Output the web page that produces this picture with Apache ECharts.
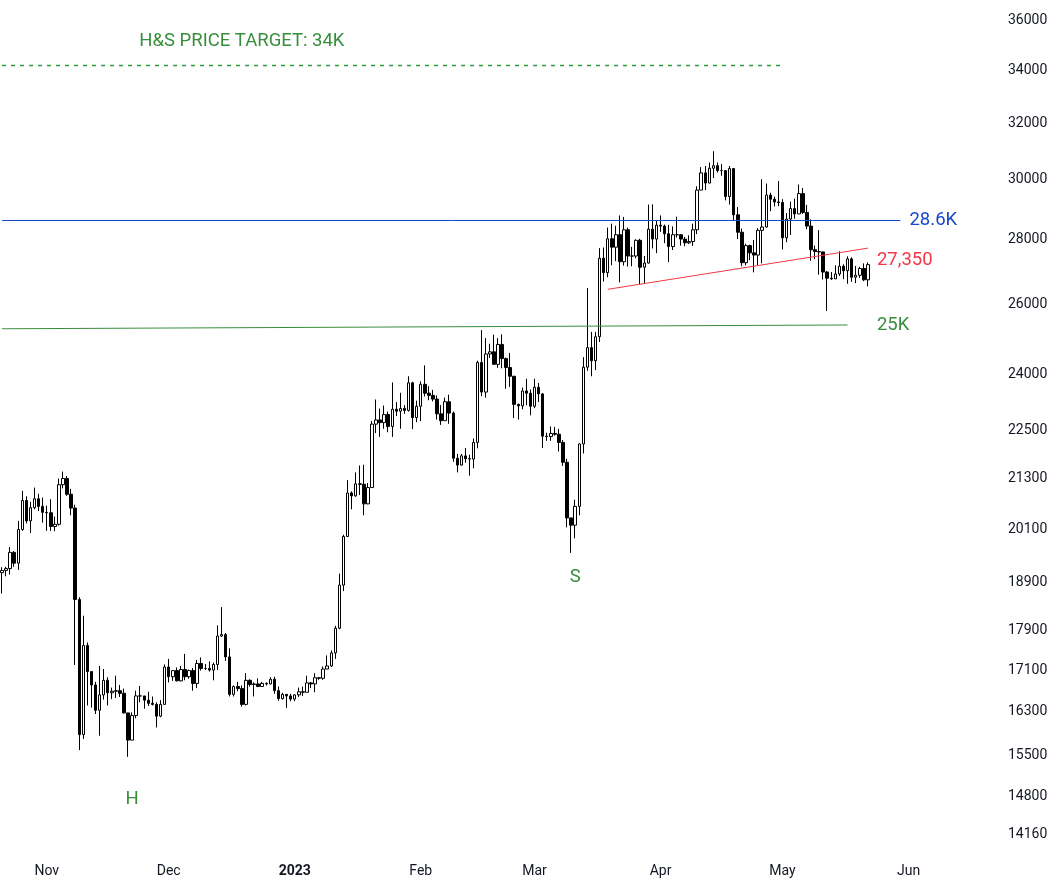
<!DOCTYPE html>
<html>
<head>
<meta charset="utf-8">
<script src="https://cdn.jsdelivr.net/npm/echarts@6/dist/echarts.min.js"></script>
<style>html,body{margin:0;padding:0;background:#fff}#chart{width:1057px;height:881px}</style>
</head>
<body>
<div id="chart"></div>
<script>
var startDate = '2022-10-21', endDate = '2023-06-23';
var firstOpen = 19120;
var closes = [
    19170,19210,19570,19330,20090,20770,20290,20600,20810,20630,20490,
    20480,20160,20210,21150,21300,20920,20590,18540,15880,17590,17070,16810,16330,16620,16900,16660,16690,16700,16650,16280,15780,16230,16600,16600,16520,16460,16440,16220,16440,17160,
    16970,17090,16890,17110,16970,17090,16840,17230,17130,17130,17100,17210,17780,17810,17360,16630,16780,16740,16440,16900,16820,16830,16780,16840,16830,16920,16700,16550,16630,16600,16540,
    16620,16680,16670,16850,16830,16950,16940,17120,17180,17440,17940,18850,19930,20950,20880,21170,21160,20690,21080,22670,22780,22710,22920,22610,23060,23010,23080,23030,23770,22840,23140,
    23730,23490,23430,23330,22940,22760,23260,22960,21800,21630,21860,21790,21780,22200,24330,23520,24570,24630,24280,24840,24440,24190,23950,23190,23150,23550,23490,23140,
    23650,23470,22360,22350,22430,22410,22200,21700,20360,20190,20630,22160,24200,24750,24380,25060,27420,26970,28040,27770,28170,27310,28330,27490,27490,27990,27140,27270,28350,28030,28480,
    28450,28200,27790,28170,28170,28030,27910,27950,28330,29650,30240,29890,30400,30490,30320,30320,29430,30390,28820,28250,27280,27820,27590,27520,28310,28420,29480,29340,29250,29230,
    28070,28680,29030,28850,29530,28900,28450,27690,27630,27620,26990,26800,26780,26930,27170,27030,27400,26830,26890,27100,26750,27220
];
var highs = [
    19240,19250,19690,19600,20290,21000,20870,20740,21080,20930,20840,
    20650,20800,20390,21300,21470,21360,21050,20670,18590,18200,17650,17070,16870,17180,17120,16960,16760,16990,16810,16740,16280,16290,16700,16790,16590,16680,16590,16480,16520,17210,
    17320,17100,17150,17180,17420,17110,17140,17300,17350,17220,17270,17250,18000,18380,17840,17530,16800,16870,16800,17040,16920,16860,16940,16870,16860,16960,16970,16780,16660,16630,16640,
    16630,16760,16780,16990,16870,17040,16950,17170,17390,17490,17990,19100,19970,21260,20990,21450,21620,21640,21190,22750,23320,23080,23160,23000,23780,23250,23500,23170,23950,23800,23290,
    23810,24250,23680,23580,23430,23170,23370,23450,23000,21910,21910,22060,21890,22300,24380,25250,25020,24860,25120,25020,25130,24470,24600,23960,23210,23640,23880,23590,
    23880,23770,23490,22450,22610,22600,22550,22260,21790,20360,20790,22180,24480,26500,25200,25200,27740,27760,28400,28530,28460,28800,28750,28400,27780,28020,28040,27490,29160,29170,28640,
    28800,28500,28490,28440,28760,28190,28100,28150,28530,29780,30440,30480,30600,31000,30600,30550,30330,30480,30410,29080,28370,27880,27850,28000,28380,30020,29870,29560,29430,29960,
    29340,28880,29260,29360,29840,29720,29150,28670,27820,28320,27620,27020,26990,27200,27640,27230,27480,27450,27180,27150,27260,27290
];
var lows = [
    18670,19040,19080,19250,19180,20060,20230,20010,20560,20520,20250,
    20060,20060,20050,20180,21060,20880,20420,17200,15600,15800,16420,16380,16260,15860,16530,16420,16540,16560,16580,16270,15480,15780,16180,16480,16360,16410,16420,16010,16200,16440,
    16860,16890,16880,16880,16900,16930,16700,16750,17090,17100,17070,16900,17100,17760,17280,16590,16590,16690,16400,16420,16780,16590,16770,16790,16800,16820,16640,16510,16530,16370,16500,
    16500,16580,16600,16670,16750,16670,16910,16910,17120,17160,17320,17920,18720,19920,20560,20860,20900,20420,20680,21080,22440,22340,22550,22460,22340,22880,22550,22940,23000,22540,22720,
    22750,23400,23300,23270,22790,22650,22760,22680,21710,21450,21620,21690,21370,21550,22050,23410,23370,24460,24280,24180,24170,23610,23660,22830,22790,23060,23170,22900,
    23090,23250,22060,22240,22240,22370,21970,21610,20140,19560,19890,20420,21920,24100,23950,24120,24910,26700,26830,27200,27330,26670,27190,27160,27170,27420,26620,26650,27250,27730,27580,
    28260,27900,27300,27680,28080,27820,27800,27870,27810,28190,29690,29650,29880,30060,30250,30140,29300,29160,28620,28030,27170,27200,27360,26980,27210,27260,28400,28940,29100,29110,
    27700,27930,28160,28690,29120,28850,28350,27340,27390,26910,26760,25810,26750,26870,26870,26770,26630,26690,26650,26810,26710,26550
];
var priceTicks = [14160,14800,15500,16300,17100,17900,18900,20100,21300,22500,24000,26000,28000,30000,32000,34000,36000];
var monthLabels = {'2022-11-01':'Nov','2022-12-01':'Dec','2023-01-01':'2023','2023-02-01':'Feb','2023-03-01':'Mar','2023-04-01':'Apr','2023-05-01':'May','2023-06-01':'Jun'};

var pad = function (n) { return n < 10 ? '0' + n : '' + n; };
var dates = [];
for (var d = new Date(startDate + 'T00:00:00Z'); d <= new Date(endDate + 'T00:00:00Z'); d.setUTCDate(d.getUTCDate() + 1)) {
    dates.push(d.getUTCFullYear() + '-' + pad(d.getUTCMonth() + 1) + '-' + pad(d.getUTCDate()));
}
var ohlc = [];
for (var i = 0; i < closes.length; i++) {
    var o = i === 0 ? firstOpen : closes[i - 1];
    ohlc.push([o, closes[i], Math.min(lows[i], o, closes[i]), Math.max(highs[i], o, closes[i])]);
}

var green = '#388e3c', blue = '#1848cc', red = '#f23645';
var lbl = function (text, color, pos) {
    return { show: true, formatter: text, color: color, position: pos || 'inside', fontSize: 18.5, fontFamily: 'Roboto' };
};
var chart = echarts.init(document.getElementById('chart'));
chart.setOption({
    animation: false,
    grid: { left: 0, right: 57, top: 0, bottom: 29 },
    xAxis: {
        type: 'category',
        data: dates,
        boundaryGap: true,
        axisLine: { show: false },
        axisTick: { show: false },
        splitLine: { show: false },
        axisLabel: {
            interval: function (idx, val) { return !!monthLabels[val]; },
            formatter: function (val) {
                var t = monthLabels[val] || '';
                return t === '2023' ? '{b|2023}' : t;
            },
            rich: { b: { fontWeight: 'bold', fontSize: 14, color: '#131722' } },
            color: '#131722', fontSize: 14, margin: 12,
            fontFamily: 'Roboto'
        }
    },
    yAxis: {
        type: 'log',
        logBase: 10,
        position: 'right',
        min: 13880,
        max: 36870,
        axisLine: { show: false },
        axisTick: { show: false },
        splitLine: { show: false },
        axisLabel: {
            customValues: priceTicks,
            formatter: function (v) { return String(Math.round(v)); },
            color: '#131722', fontSize: 14, margin: 8,
            fontFamily: 'Roboto'
        }
    },
    series: [{
        type: 'candlestick',
        data: ohlc,
        barWidth: 3,
        itemStyle: { color: '#ffffff', color0: '#000000', borderColor: '#000000', borderColor0: '#000000', borderWidth: 1 },
        markLine: {
            silent: true,
            symbol: 'none',
            label: { show: false },
            lineStyle: { color: green, width: 1, type: 'solid', opacity: 1 },
            data: [
                [{ coord: ['2022-10-21', 34200], lineStyle: { color: '#2e9b3a', type: [4, 5], width: 1.3 } },
                 { coord: ['2023-05-01', 34200] }],
                [{ coord: ['2022-10-21', 28650], lineStyle: { color: blue } },
                 { coord: ['2023-05-30', 28650] }],
                [{ coord: ['2022-10-21', 25290], lineStyle: { color: green } },
                 { coord: ['2023-05-17', 25400] }],
                [{ coord: ['2023-03-19', 26460], lineStyle: { color: red } },
                 { coord: ['2023-05-22', 27740] }]
            ]
        },
        markPoint: {
            silent: true,
            symbol: 'circle',
            symbolSize: 0,
            data: [
                { coord: ['2022-11-22', 14750], label: lbl('H', green) },
                { coord: ['2023-03-11', 19020], label: lbl('S', green) },
                { coord: ['2022-12-19', 35160], label: lbl('H&S PRICE TARGET: 34K', green) },
                { coord: ['2023-05-31', 28650], label: lbl('28.6K', blue, 'right') },
                { coord: ['2023-05-23', 27350], label: lbl('27,350', red, 'right') },
                { coord: ['2023-05-23', 25400], label: lbl('25K', green, 'right') }
            ]
        }
    }]
});
</script>
</body>
</html>
